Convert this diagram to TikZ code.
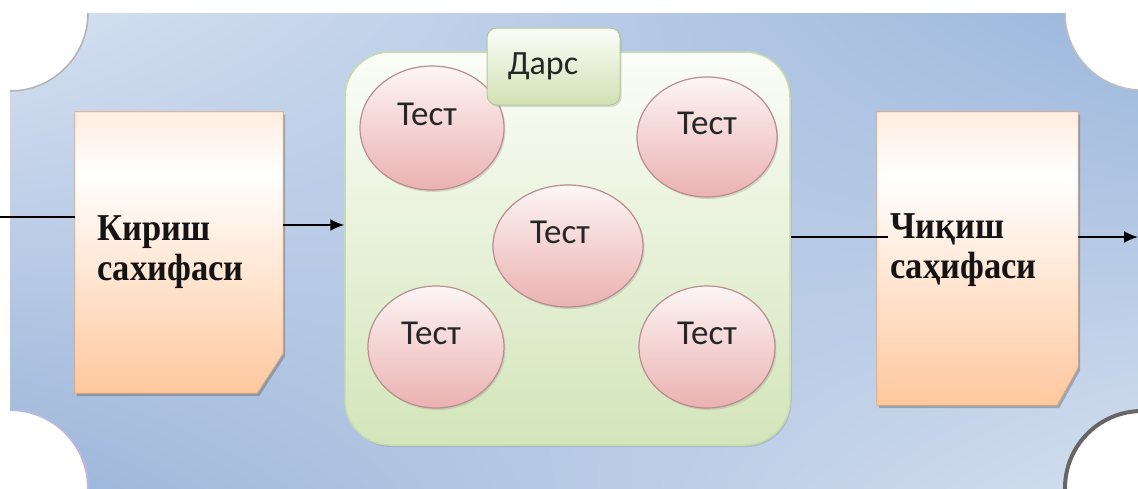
\documentclass[tikz,border=0pt]{standalone}
\usepackage{fontspec}
\setmainfont{Liberation Serif}
\newfontfamily\calib{Carlito}
\usetikzlibrary{shapes.geometric,arrows.meta,shadows,shadings}
\definecolor{bgL}{HTML}{D6E1F1}
\definecolor{bgR}{HTML}{D3DFEF}
\definecolor{bgD}{HTML}{9BB6DC}
\definecolor{bgE}{HTML}{9CB5DA}
\definecolor{docT}{HTML}{FDEDE1}
\definecolor{docB}{HTML}{FFC89E}
\definecolor{docE}{HTML}{E8A56E}
\definecolor{grT}{HTML}{FBFDF8}
\definecolor{grM}{HTML}{F0F6E6}
\definecolor{grB}{HTML}{D3E5BA}
\definecolor{grE}{HTML}{C8DCAC}
\definecolor{tabB}{HTML}{D2E1B4}
\definecolor{tabE}{HTML}{B4C896}
\definecolor{pkT}{HTML}{FDF5F5}
\definecolor{pkM}{HTML}{F6DADA}
\definecolor{pkB}{HTML}{EBB1B1}
\definecolor{pkE}{HTML}{B98E8E}
\pgfdeclareverticalshading{docsh}{100bp}{color(0bp)=(docB); color(25bp)=(docB); color(64bp)=(white); color(75bp)=(docT); color(100bp)=(docT)}
\begin{document}
\begin{tikzpicture}[x=1pt,y=-1pt,
  docnode/.style={rectangle, inner sep=0pt, draw=none},
  docfill/.style={shading=docsh, draw=docE, line width=0.8pt,
    drop shadow={shadow xshift=2pt, shadow yshift=-3pt, opacity=0.35, fill=black!70}},
  doctext/.style={anchor=base west, inner sep=0pt, font=\bfseries\fontsize{34.5}{40}\selectfont, text=black!92},
  greenbox/.style={rectangle, rounded corners=45pt, draw=grE, line width=1.5pt,
    top color=grT, middle color=grM, bottom color=grB, inner sep=0pt,
    drop shadow={shadow xshift=1.5pt, shadow yshift=-2pt, opacity=0.25}},
  tabbox/.style={rectangle, rounded corners=10pt, draw=tabE, line width=1pt,
    top color=grT, bottom color=tabB, inner sep=0pt, minimum width=133pt, minimum height=77pt,
    font=\calib\fontsize{34}{38}\selectfont, text=black!85,
    drop shadow={shadow xshift=1.5pt, shadow yshift=-2pt, opacity=0.25}},
  test/.style={ellipse, draw=pkE, line width=1.2pt, top color=pkT, middle color=pkM, bottom color=pkB,
    inner sep=0pt, font=\calib\fontsize{35}{38}\selectfont, text=black!85,
    text height=10pt, text depth=16pt,
    drop shadow={shadow xshift=1.5pt, shadow yshift=-2pt, opacity=0.25}},
  ln/.style={line width=2pt, black},
  arr/.style={line width=2pt, black, -{Latex[length=14pt,width=12pt]}}
]
\useasboundingbox (0,0) rectangle (1138,488);
% banner
\shade[upper left=bgL, upper right=bgD, lower left=bgE, lower right=bgR] (10,13) rectangle (1142,492);
\begin{scope}
\clip (10,13) rectangle (1142,492);
\filldraw[fill=white, draw=gray!60, line width=1.5pt] (10,13) circle[radius=78];
\filldraw[fill=white, draw=gray!50, line width=1.5pt] (1142,13) circle[radius=77];
\filldraw[fill=white, draw=gray!60!blue!40, line width=2pt] (10,488) circle[radius=78];
\filldraw[fill=white, draw=gray!80!black, line width=4pt] (1142,488) circle[radius=77];
\end{scope}

% documents
\node[docnode, minimum width=208pt, minimum height=281pt] (kirish) at (179,252.5) {};
\path[docfill] (kirish.north west) -- (kirish.north east) -- ([yshift=40pt]kirish.south east)
  -- ([xshift=-26pt]kirish.south east) -- (kirish.south west) -- cycle;
\fill[gray!35, opacity=0.6] ([yshift=40pt]kirish.south east) -- ([xshift=-26pt]kirish.south east)
  -- ([xshift=-7pt,yshift=30pt]kirish.south east) -- cycle;
\node[doctext] (k1) at (97,240) {\scalebox{1}[1.1]{Кириш}};
\node[doctext] (k2) at (97,280) {\scalebox{1}[1.1]{сахифаси}};

\node[docnode, minimum width=201pt, minimum height=293pt] (chiqish) at (977.5,258.5) {};
\path[docfill] (chiqish.north west) -- (chiqish.north east) -- ([yshift=38pt]chiqish.south east)
  -- ([xshift=-21pt]chiqish.south east) -- (chiqish.south west) -- cycle;
\fill[gray!35, opacity=0.6] ([yshift=38pt]chiqish.south east) -- ([xshift=-21pt]chiqish.south east)
  -- ([xshift=-6pt,yshift=28pt]chiqish.south east) -- cycle;
\node[doctext] (c1) at (890,238) {\scalebox{1}[1.1]{Чиқиш}};
\node[doctext] (c2) at (890,278) {\scalebox{1}[1.1]{саҳифаси}};

% lesson box
\node[greenbox, minimum width=445pt, minimum height=393pt] (green) at (567.5,248.5) {};
\node[test, minimum width=144pt, minimum height=124pt] (t1) at (432,128) {Тест\kern10pt};
\node[test, minimum width=140pt, minimum height=120pt] (t2) at (707,137) {Тест};
\node[test, minimum width=150pt, minimum height=122pt] (t3) at (568,246) {Тест\kern16pt};
\node[test, minimum width=136pt, minimum height=122pt] (t4) at (436,347) {Тест\kern10pt};
\node[test, minimum width=136pt, minimum height=122pt] (t5) at (707,347) {Тест};
\node[tabbox] (dars) at (553.5,66.5) {Дарс\kern21pt};

% connectors
\coordinate (in) at (0,217);
\coordinate (out) at (1138,237);
\draw[ln] (in) -- (in -| kirish.west);
\draw[arr] ([yshift=27.5pt]kirish.east) -- ([yshift=27.5pt]kirish.east -| green.west);
\draw[ln] (green.east |- out) -- ([xshift=-2pt]c1.base west |- out);
\draw[arr] (chiqish.east |- out) -- (out);
\end{tikzpicture}
\end{document}
